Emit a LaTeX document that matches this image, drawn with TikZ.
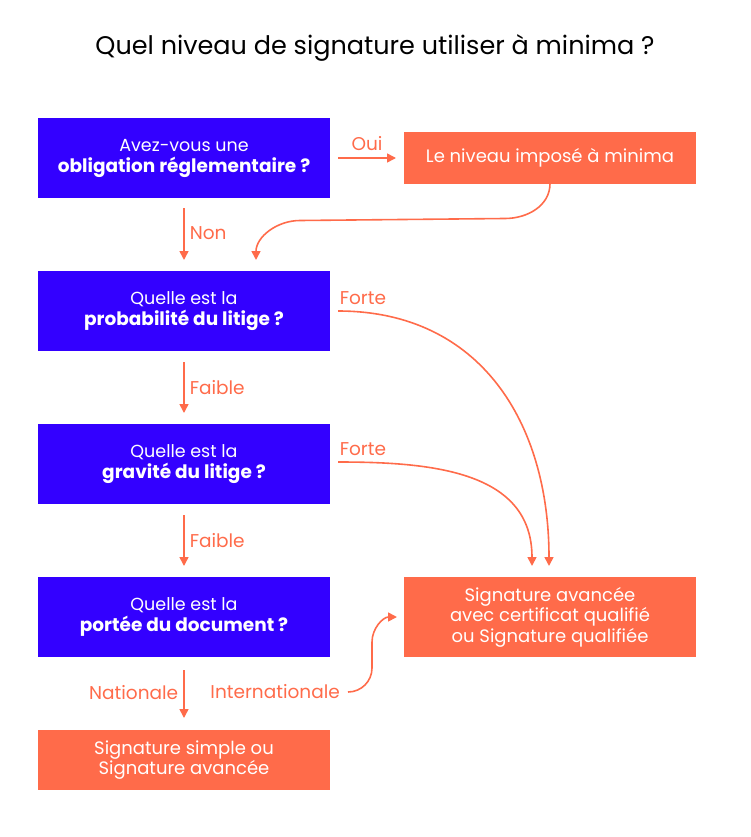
\documentclass[tikz,border=0pt]{standalone}
\usepackage{fontspec}
\setmainfont{Poppins}
\usetikzlibrary{arrows.meta,positioning,calc}
\definecolor{royal}{RGB}{51,0,255}
\definecolor{coral}{RGB}{255,107,74}

\begin{document}
\begin{tikzpicture}[x=1pt, y=1pt, >={Triangle[length=9pt,width=9pt]}]
    \tikzset{
        question/.style={fill=royal, rectangle, minimum height=80pt, minimum width=292pt, inner sep=0pt, outer sep=0pt, align=center, text=white, font=\fontsize{17.5}{21}\selectfont},
        outcome/.style={fill=coral, rectangle, minimum width=292pt, inner sep=0pt, outer sep=0pt, align=center, text=white, font=\fontsize{18}{20.5}\selectfont},
        line/.style={draw=coral, ->, line width=1.6pt},
        answer/.style={text=coral, font=\fontsize{18.5}{20}\selectfont, inner sep=5pt}
    }
    \useasboundingbox (0,0) rectangle (750,-837);
    \node [font=\fontsize{25.5}{30}\selectfont] (title) at (375,-48) {Quel niveau de signature utiliser à minima ?};

    \node [question] (oblig) at (184,-158) {Avez-vous une\\{\fontsize{18.5}{21}\selectfont\textbf{obligation réglementaire ?}}};
    \node [question, below=73pt of oblig] (proba) {Quelle est la\\{\fontsize{18.5}{21}\selectfont\textbf{probabilité du litige ?}}};
    \node [question, below=73pt of proba] (gravite) {Quelle est la\\{\fontsize{18.5}{21}\selectfont\textbf{gravité du litige ?}}};
    \node [question, below=73pt of gravite] (portee) {Quelle est la\\{\fontsize{18.5}{21}\selectfont\textbf{portée du document ?}}};

    \node [outcome, minimum height=51pt, right=74pt of oblig] (impose) {Le niveau imposé à minima};
    \node [outcome, minimum height=80pt, right=74pt of portee] (avancee) {Signature avancée\\avec certificat qualifié\\ou Signature qualifiée};
    \node [outcome, minimum height=60pt, below=73pt of portee] (simple) {Signature simple ou\\Signature avancée};
    \node [answer, anchor=east] (intl) at (345,-692) {Internationale};

    \draw [line] ([yshift=-10pt]oblig.south) -- node[answer, right, yshift=1pt] {Non} ([yshift=11pt]proba.north);
    \draw [line] ([yshift=-11pt]proba.south) -- node[answer, right] {Faible} ([yshift=11pt]gravite.north);
    \draw [line] ([yshift=-11pt]gravite.south) -- node[answer, right] {Faible} ([yshift=11pt]portee.north);
    \draw [line] ([yshift=-13pt]portee.south) -- node[answer, left, yshift=1pt] {Nationale} ([yshift=12pt]simple.north);

    \draw [line] ([xshift=8pt]oblig.east) -- node[answer, above, inner sep=2pt, yshift=5pt] {Oui} ([xshift=-8pt]impose.west);
    \draw [line] (impose.south) to[out=-90,in=0] ++(-45,-35) -- ++(-205,-2) to[out=180,in=90] ([xshift=72pt,yshift=11pt]proba.north);

    \draw [line] ([xshift=8pt]proba.east) node[answer, above right, inner sep=1pt, yshift=5pt] {Forte} to[out=0,in=90,looseness=1.1] ([xshift=145pt,yshift=11pt]avancee.north west);
    \draw [line] ([xshift=8pt,yshift=2pt]gravite.east) node[answer, above right, inner sep=1pt, yshift=5pt] {Forte} to[out=0,in=90,looseness=1.1] ([xshift=128pt,yshift=11pt]avancee.north west);
    \draw [line] ([xshift=3pt]intl.east) to[out=0,in=-90] (372,-668) -- (372,-642) to[out=90,in=180] ([xshift=-7pt]avancee.west);
\end{tikzpicture}
\end{document}
